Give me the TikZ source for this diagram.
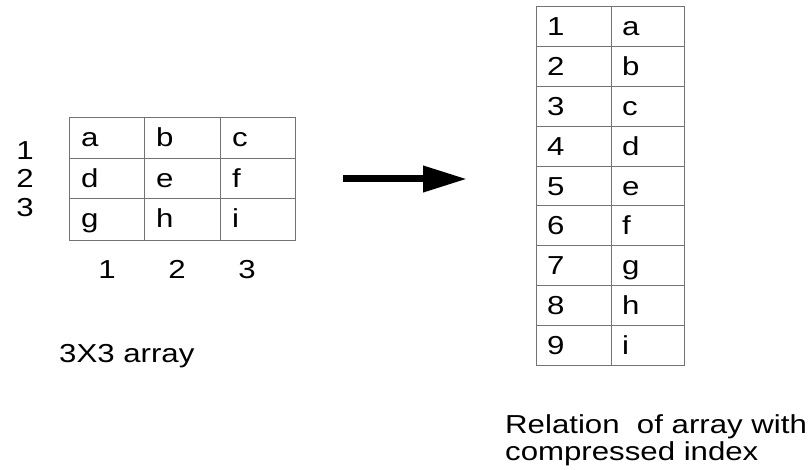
\documentclass[tikz,border=0pt]{standalone}
\usepackage{fontspec}
\setmainfont{Liberation Sans}[FakeStretch=1.2]
\usetikzlibrary{arrows.meta}

\begin{document}
\begin{tikzpicture}[x=1pt, y=-1pt,
		cellline/.style={draw=black!55, line width=1pt},
		entry/.style={anchor=base west, inner sep=0pt, font=\fontsize{26}{27}\selectfont},
		index/.style={anchor=base, inner sep=0pt, font=\fontsize{26}{27}\selectfont},
		bigarrow/.style={line width=7pt, -{Triangle[length=44pt, width=25pt]}}]

	\useasboundingbox (0,0) rectangle (810,470);

	\draw[cellline] (69,118) rectangle (295,240);
	\draw[cellline] (144,118) -- (144,240) (220,118) -- (220,240);
	\draw[cellline] (69,159) -- (295,159) (69,199) -- (295,199);

	\node[entry] (a) at (81,147) {a}; \node[entry] (b) at (156,147) {b}; \node[entry] (c) at (232,147) {c};
	\node[entry] (d) at (81,188) {d}; \node[entry] (e) at (156,188) {e}; \node[entry] (f) at (232,188) {f};
	\node[entry] (g) at (81,228) {g}; \node[entry] (h) at (156,228) {h}; \node[entry] (i) at (232,228) {i};

	\node[index] (row1) at (25,160) {1};
	\node[index] (row2) at (25,188) {2};
	\node[index] (row3) at (25,216) {3};

	\node[index] (col1) at (107,278) {1};
	\node[index] (col2) at (177,278) {2};
	\node[index] (col3) at (247,278) {3};

	\node[entry] (caption) at (59,362) {3X3 array};

	\path (343,179) coordinate (arrowstart);
	\path (467,179) coordinate (arrowend);
	\draw[bigarrow] (arrowstart) -- (arrowend);

	\draw[cellline] (536,7) rectangle (684,365);
	\draw[cellline] (611,7) -- (611,365);
	\draw[cellline] (536,46.8) -- (684,46.8) (536,86.6) -- (684,86.6) (536,126.3) -- (684,126.3);
	\draw[cellline] (536,166.1) -- (684,166.1) (536,205.9) -- (684,205.9) (536,245.7) -- (684,245.7);
	\draw[cellline] (536,285.4) -- (684,285.4) (536,325.2) -- (684,325.2);

	\node[entry] (k1) at (547,36) {1};    \node[entry] (v1) at (622,36) {a};
	\node[entry] (k2) at (547,75.8) {2};  \node[entry] (v2) at (622,75.8) {b};
	\node[entry] (k3) at (547,115.6) {3}; \node[entry] (v3) at (622,115.6) {c};
	\node[entry] (k4) at (547,155.3) {4}; \node[entry] (v4) at (622,155.3) {d};
	\node[entry] (k5) at (547,195.1) {5}; \node[entry] (v5) at (622,195.1) {e};
	\node[entry] (k6) at (547,234.9) {6}; \node[entry] (v6) at (622,234.9) {f};
	\node[entry] (k7) at (547,274.7) {7}; \node[entry] (v7) at (622,274.7) {g};
	\node[entry] (k8) at (547,314.4) {8}; \node[entry] (v8) at (622,314.4) {h};
	\node[entry] (k9) at (547,354.2) {9}; \node[entry] (v9) at (622,354.2) {i};

	\node[entry, align=left] (relation) at (505,460) {Relation\ \ of array with\\compressed index};
\end{tikzpicture}
\end{document}
